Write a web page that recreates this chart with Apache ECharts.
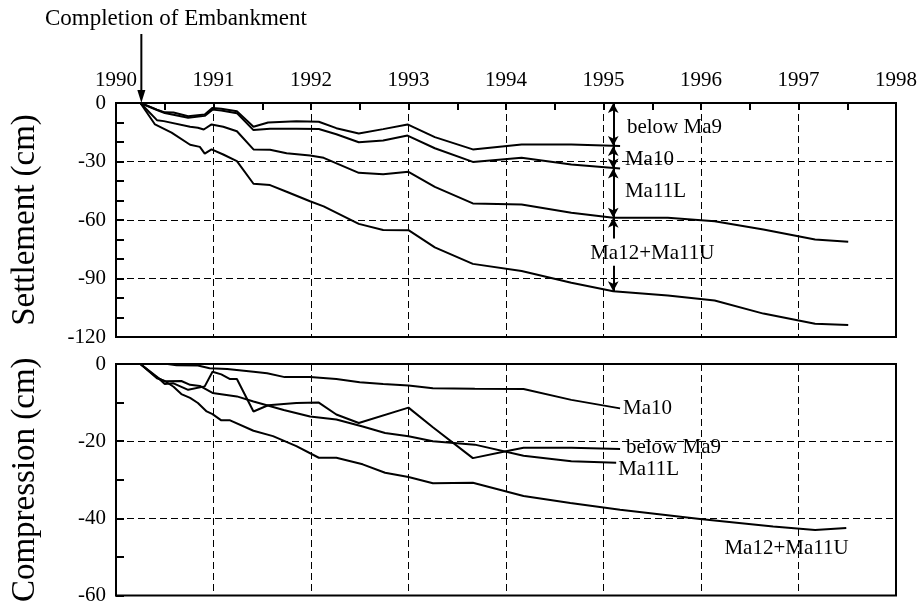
<!DOCTYPE html>
<html style="height: 100%">
  <head>
    <meta charset="UTF-8" />
    <title>Settlement and compression</title>
    <script src="https://cdn.jsdelivr.net/npm/echarts@6/dist/echarts.min.js"></script>
  </head>
  <body style="height: 100%; margin: 0; background: #fff">
    <div id="main" style="width: 924px; height: 606px"></div>
    <script>
      // top panel: cumulative settlement curves (cm)
      const yearsS1 = [1990.25, 1990.42, 1990.5, 1990.59, 1990.74, 1990.91, 1990.99, 1991.08, 1991.24, 1991.41, 1991.56, 1991.85, 1992.08, 1992.26, 1992.49, 1992.74, 1992.99, 1993.27, 1993.66, 1994.16, 1994.67, 1995.17]
      const setBelowMa9 = [0, -3.4, -4.8, -4.9, -6.8, -5.9, -2.5, -3.0, -4.2, -12.2, -10.0, -9.3, -9.6, -12.9, -15.6, -13.4, -11.0, -17.5, -23.8, -21.3, -21.3, -22.1]

      const yearsS2 = [1990.25, 1990.42, 1990.5, 1990.74, 1990.91, 1990.99, 1991.08, 1991.24, 1991.41, 1991.58, 1991.85, 1992.08, 1992.26, 1992.49, 1992.74, 1992.99, 1993.27, 1993.66, 1994.16, 1994.67, 1995.17]
      const setMa10 = [0, -3.6, -5.1, -7.6, -6.6, -3.4, -3.9, -5.2, -13.9, -13.2, -13.2, -13.3, -16.0, -20.1, -19.2, -16.7, -23.2, -30.2, -28.1, -31.5, -33.6]

      const yearsS3 = [1990.25, 1990.42, 1990.49, 1990.76, 1990.84, 1990.9, 1990.98, 1991.1, 1991.24, 1991.41, 1991.58, 1991.75, 1991.99, 1992.13, 1992.49, 1992.74, 1993.0, 1993.27, 1993.66, 1994.16, 1994.67, 1995.1, 1995.66, 1996.14, 1996.64, 1997.17, 1997.51]
      const setMa11L = [0, -8.8, -9.3, -12.2, -12.7, -13.6, -11.0, -12.2, -14.5, -23.8, -24.0, -25.8, -26.9, -28.1, -35.8, -36.5, -35.3, -43.0, -51.5, -52.1, -56.3, -58.9, -58.9, -60.6, -64.9, -70.0, -71.2]

      const yearsS4 = [1990.25, 1990.4, 1990.57, 1990.76, 1990.86, 1990.91, 1990.98, 1991.1, 1991.24, 1991.41, 1991.58, 1991.75, 1991.99, 1992.13, 1992.49, 1992.74, 1993.0, 1993.27, 1993.66, 1994.16, 1994.67, 1995.1, 1995.66, 1996.14, 1996.64, 1997.17, 1997.51]
      const setTotal = [0, -11.0, -15.2, -21.4, -22.5, -26.0, -23.8, -26.4, -29.8, -41.4, -42.1, -45.5, -50.4, -53.0, -62.0, -65.1, -65.2, -74.0, -82.5, -86.2, -92.2, -96.5, -98.7, -101.3, -108.0, -113.2, -113.9]

      // bottom panel: compression of each layer (cm)
      const yearsC10 = [1990.25, 1990.42, 1990.62, 1990.84, 1990.96, 1991.14, 1991.41, 1991.55, 1991.73, 1991.99, 1992.26, 1992.5, 1992.74, 1993.0, 1993.25, 1993.68, 1994.18, 1994.67, 1995.17]
      const compMa10 = [0, 0.4, -0.3, -0.4, -1.1, -1.3, -2.0, -2.4, -3.4, -3.4, -3.9, -4.7, -5.2, -5.6, -6.3, -6.4, -6.5, -9.3, -11.5]

      const yearsC9 = [1990.25, 1990.42, 1990.5, 1990.59, 1990.74, 1990.91, 1990.99, 1991.08, 1991.17, 1991.24, 1991.41, 1991.56, 1991.85, 1992.08, 1992.26, 1992.49, 1993.0, 1993.25, 1993.66, 1994.0, 1994.18, 1994.67, 1995.17]
      const compBelowMa9 = [0, -3.3, -5.2, -5.0, -6.7, -5.8, -2.0, -2.7, -3.9, -3.9, -12.3, -10.7, -10.1, -10.0, -13.1, -15.3, -11.3, -16.4, -24.4, -22.6, -21.7, -21.7, -22.0]

      const yearsC11 = [1990.25, 1990.42, 1990.5, 1990.67, 1990.76, 1990.86, 1990.99, 1991.24, 1991.41, 1991.72, 1991.99, 1992.26, 1992.53, 1992.76, 1993.0, 1993.25, 1993.68, 1994.18, 1994.67, 1995.13]
      const compMa11L = [0, -3.5, -4.5, -4.4, -5.4, -5.7, -7.5, -8.4, -9.7, -11.9, -13.6, -14.4, -16.2, -17.9, -18.7, -20.0, -20.9, -23.8, -25.2, -25.6]

      const yearsC12 = [1990.25, 1990.42, 1990.5, 1990.59, 1990.67, 1990.76, 1990.84, 1990.93, 1990.99, 1991.08, 1991.17, 1991.41, 1991.61, 1991.85, 1992.08, 1992.26, 1992.53, 1992.76, 1993.0, 1993.25, 1993.66, 1994.18, 1994.66, 1995.17, 1995.99, 1996.74, 1997.17, 1997.49]
      const compMa12 = [0, -3.7, -4.4, -5.9, -7.8, -8.8, -10.1, -12.3, -13.0, -14.6, -14.6, -17.3, -18.7, -21.3, -24.3, -24.3, -26.0, -28.2, -29.3, -30.9, -30.8, -34.2, -36.0, -37.8, -40.2, -42.1, -43.0, -42.5]

      // annotations
      const embankmentYear = 1990.26
      const arrowYear = 1995.1
      const arrowSpans = [[0, -22.1], [-22.1, -33.6], [-33.6, -58.9], [-58.9, -69.5], [-83.5, -96.5]]
      const arrowHeads = [['arrow', 'arrow'], ['arrow', 'arrow'], ['arrow', 'arrow'], ['arrow', 'none'], ['none', 'arrow']]
      const topLabels = [['below Ma9', 1995.24, -12.4], ['Ma10', 1995.22, -28.9], ['Ma11L', 1995.22, -45.5], ['Ma12+Ma11U', 1995.5, -77.1]]
      const bottomLabels = [['Ma10', 1995.2, -11.4], ['below Ma9', 1995.23, -21.7], ['Ma11L', 1995.15, -27.3], ['Ma12+Ma11U', 1996.24, -47.9]]

      const FONT = 'Liberation Serif'
      const zip = (xs, ys) => xs.map((x, i) => [x, ys[i]])

      const chart = echarts.init(document.getElementById('main'))

      const dashed = { show: true, lineStyle: { color: '#000', width: 1, type: [7, 4] } }
      const labelStyle = { color: '#000', fontFamily: FONT, fontSize: 21 }

      const line = (name, data, grid, extra) =>
        Object.assign(
          {
            name,
            type: 'line',
            xAxisIndex: grid,
            yAxisIndex: grid,
            data,
            showSymbol: false,
            symbol: 'none',
            silent: true,
            lineStyle: { color: '#000', width: 2 },
          },
          extra || {}
        )

      const textMarks = (labels) => ({
        silent: true,
        symbol: 'circle',
        symbolSize: 0,
        label: Object.assign({ show: true, position: 'right', distance: 0, formatter: '{b}' }, labelStyle),
        data: labels.map((l) => {
          const item = { name: l[0], coord: [l[1], l[2]] }
          if (l[0] === 'Ma12+Ma11U' && labels === topLabels) item.label = { position: 'inside' }
          return item
        }),
      })

      const option = {
        animation: false,
        grid: [
          { left: 116, top: 103, width: 780, height: 234, show: true, borderColor: '#000', borderWidth: 2 },
          { left: 116, top: 364, width: 780, height: 233, show: true, borderColor: '#000', borderWidth: 2 },
        ],
        xAxis: [
          {
            gridIndex: 0,
            type: 'value',
            position: 'top',
            min: 1990,
            max: 1998,
            interval: 1,
            axisLine: { show: true, lineStyle: { color: '#000', width: 2 } },
            axisTick: { show: true, inside: true, length: 7, lineStyle: { color: '#000', width: 2 } },
            minorTick: { show: true, splitNumber: 2, length: 7, lineStyle: { color: '#000', width: 2 } },
            axisLabel: Object.assign({ margin: 12, formatter: (v) => String(v) }, labelStyle),
            splitLine: dashed,
          },
          {
            gridIndex: 1,
            type: 'value',
            min: 1990,
            max: 1998,
            interval: 1,
            axisLine: { show: false },
            axisTick: { show: false },
            axisLabel: { show: false },
            splitLine: dashed,
          },
        ],
        yAxis: [
          {
            gridIndex: 0,
            type: 'value',
            min: -120,
            max: 0,
            interval: 30,
            axisLine: { show: true, lineStyle: { color: '#000', width: 2 } },
            axisTick: { show: true, inside: true, length: 8, lineStyle: { color: '#000', width: 2 } },
            minorTick: { show: true, splitNumber: 3, length: 8, lineStyle: { color: '#000', width: 2 } },
            axisLabel: Object.assign({ margin: 10 }, labelStyle),
            splitLine: dashed,
            name: 'Settlement (cm)',
            nameLocation: 'middle',
            nameGap: 74,
            nameTextStyle: { color: '#000', fontFamily: FONT, fontSize: 33 },
          },
          {
            gridIndex: 1,
            type: 'value',
            min: -60,
            max: 0,
            interval: 20,
            axisLine: { show: true, lineStyle: { color: '#000', width: 2 } },
            axisTick: { show: true, inside: true, length: 8, lineStyle: { color: '#000', width: 2 } },
            minorTick: { show: true, splitNumber: 2, length: 8, lineStyle: { color: '#000', width: 2 } },
            axisLabel: Object.assign({ margin: 10 }, labelStyle),
            splitLine: dashed,
            name: 'Compression (cm)',
            nameLocation: 'middle',
            nameGap: 74,
            nameTextStyle: { color: '#000', fontFamily: FONT, fontSize: 33 },
          },
        ],
        series: [
          line('below Ma9', zip(yearsS1, setBelowMa9), 0, {
            markLine: {
              silent: true,
              symbolSize: [8, 10],
              label: { show: false },
              lineStyle: { color: '#000', width: 2, type: 'solid' },
              data: arrowSpans.map((s, i) => [
                { coord: [arrowYear, s[0]], symbol: arrowHeads[i][0] },
                { coord: [arrowYear, s[1]], symbol: arrowHeads[i][1] },
              ]),
            },
            markPoint: textMarks(topLabels),
          }),
          line('Ma10', zip(yearsS2, setMa10), 0),
          line('Ma11L', zip(yearsS3, setMa11L), 0),
          line('Ma12+Ma11U', zip(yearsS4, setTotal), 0),
          line('Ma10 comp', zip(yearsC10, compMa10), 1, { markPoint: textMarks(bottomLabels) }),
          line('below Ma9 comp', zip(yearsC9, compBelowMa9), 1),
          line('Ma11L comp', zip(yearsC11, compMa11L), 1),
          line('Ma12+Ma11U comp', zip(yearsC12, compMa12), 1),
        ],
      }

      chart.setOption(option)

      // "Completion of Embankment" arrow pointing at the start of the curves
      const tip = chart.convertToPixel({ gridIndex: 0 }, [embankmentYear, 0])
      chart.setOption({
        graphic: [
          {
            type: 'text',
            left: 45,
            top: 7,
            style: { text: 'Completion of Embankment', fill: '#000', font: '23px "Liberation Serif"' },
          },
          {
            type: 'line',
            shape: { x1: tip[0], y1: 34, x2: tip[0], y2: tip[1] - 10 },
            style: { stroke: '#000', lineWidth: 2 },
          },
          {
            type: 'polygon',
            shape: { points: [[tip[0] - 4, tip[1] - 13], [tip[0] + 4, tip[1] - 13], [tip[0], tip[1]]] },
            style: { fill: '#000' },
          },
        ],
      })
    </script>
  </body>
</html>
